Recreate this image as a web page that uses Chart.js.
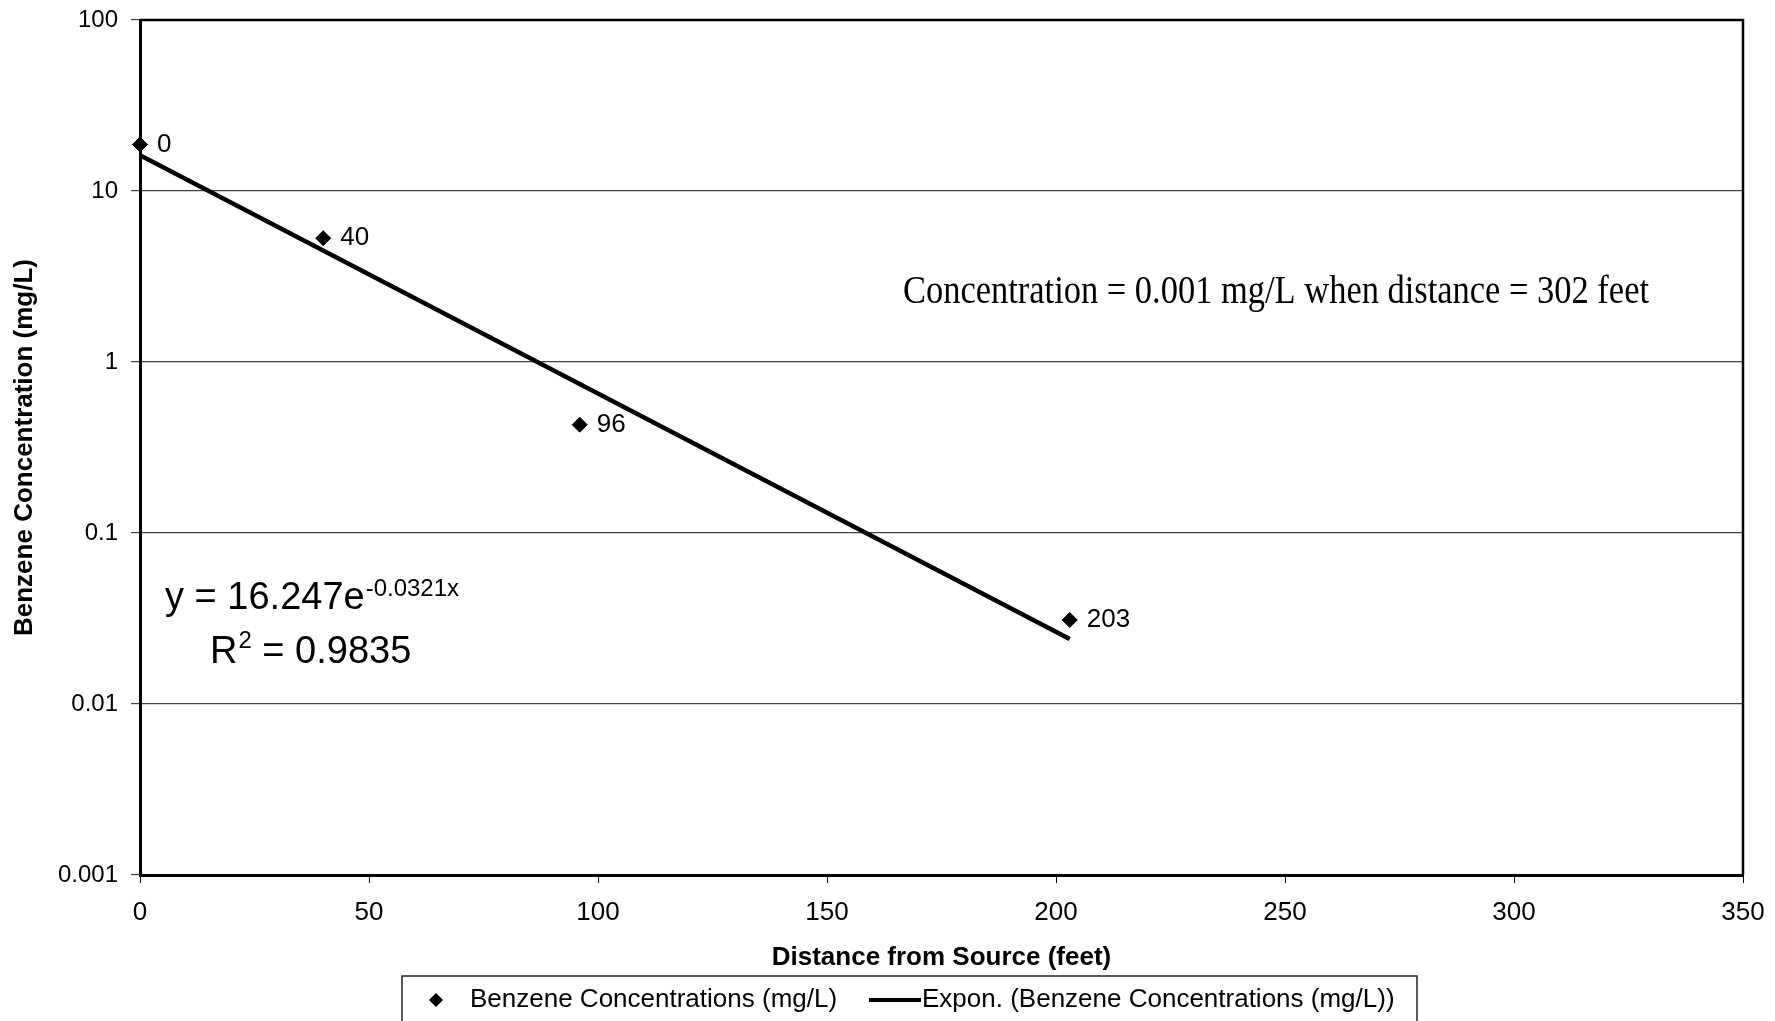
<!DOCTYPE html>
<html>
<head>
<meta charset="utf-8">
<script src="https://cdn.jsdelivr.net/npm/chart.js@4.4.1/dist/chart.umd.min.js"></script>
<style>
  html, body { margin: 0; padding: 0; background: #fff; }
  #wrap { width: 1775px; height: 1021px; }
</style>
</head>
<body>
<div id="wrap"><canvas id="chart" width="1775" height="1021"></canvas></div>
<script>
const distances = [0, 40, 96, 203];
const concentrations = [18.7, 5.3, 0.43, 0.031];
const pointLabels = ['0', '40', '96', '203'];

// Exponential trendline end points
const trendX = [0, 203];
const trendY = [16.2, 0.024];

// Axis ticks
const yTicks = [0.001, 0.01, 0.1, 1, 10, 100];
const yTickLabels = ['0.001', '0.01', '0.1', '1', '10', '100'];
const xMin = 0, xMax = 350, xStep = 50;

const seriesLabel = 'Benzene Concentrations (mg/L)';
const trendLabel = 'Expon. (Benzene Concentrations (mg/L))';
const eqMain = 'y = 16.247e';
const eqExp = '-0.0321x';
const r2Value = ' = 0.9835';
const noteText = 'Concentration = 0.001 mg/L when distance = 302 feet';

const SANS = '"Liberation Sans", Arial, sans-serif';
const SERIF = '"Liberation Serif", "Times New Roman", serif';

// Box around plot (top and right edges)
const framePlugin = {
    id: 'frame',
    afterDraw(chart) {
        const { ctx, chartArea: a } = chart;
        ctx.save();
        ctx.strokeStyle = '#000';
        ctx.lineWidth = 2.5;
        ctx.beginPath();
        ctx.moveTo(a.left, a.top);
        ctx.lineTo(a.right, a.top);
        ctx.lineTo(a.right, a.bottom);
        ctx.stroke();
        ctx.restore();
    }
};

// Point labels, equation and note
const textPlugin = {
    id: 'texts',
    afterDatasetsDraw(chart) {
        const ctx = chart.ctx;
        ctx.save();
        ctx.fillStyle = '#000';
        ctx.textBaseline = 'middle';
        ctx.textAlign = 'left';

        // labels next to each point
        ctx.font = '26px ' + SANS;
        chart.getDatasetMeta(0).data.forEach((pt, i) => {
            ctx.fillText(pointLabels[i], pt.x + 17, pt.y);
        });

        // trendline equation
        ctx.textBaseline = 'alphabetic';
        ctx.font = '38px ' + SANS;
        ctx.fillText(eqMain, 165, 609);
        const w = ctx.measureText(eqMain).width;
        ctx.font = '24px ' + SANS;
        ctx.fillText(eqExp, 165 + w + 1, 596);

        ctx.font = '38px ' + SANS;
        ctx.fillText('R', 210, 663);
        const rw = ctx.measureText('R').width;
        ctx.font = '24px ' + SANS;
        ctx.fillText('2', 210 + rw + 1, 648);
        const sw = ctx.measureText('2').width;
        ctx.font = '38px ' + SANS;
        ctx.fillText(r2Value, 210 + rw + sw + 1, 663);

        // note, condensed serif
        ctx.font = '40px ' + SERIF;
        const nw = ctx.measureText(noteText).width;
        const target = 746;
        ctx.translate(903, 303);
        ctx.scale(target / nw, 1);
        ctx.fillText(noteText, 0, 0);
        ctx.restore();
    }
};

// Legend box at the bottom
const legendPlugin = {
    id: 'legendBox',
    afterDraw(chart) {
        const ctx = chart.ctx;
        const ds = chart.data.datasets;
        const top = 976, left = 402, right = 1417, cy = 1000;
        ctx.save();
        ctx.strokeStyle = '#222';
        ctx.lineWidth = 1.5;
        ctx.strokeRect(left, top, right - left, 60);

        ctx.fillStyle = '#000';
        ctx.beginPath();
        ctx.moveTo(436, cy - 7);
        ctx.lineTo(443, cy);
        ctx.lineTo(436, cy + 7);
        ctx.lineTo(429, cy);
        ctx.closePath();
        ctx.fill();

        ctx.font = '26px ' + SANS;
        ctx.textBaseline = 'middle';
        ctx.fillText(ds[0].label, 470, cy);

        ctx.lineWidth = 4;
        ctx.strokeStyle = '#000';
        ctx.beginPath();
        ctx.moveTo(869, cy);
        ctx.lineTo(921, cy);
        ctx.stroke();
        ctx.fillText(ds[1].label, 922, cy);
        ctx.restore();
    }
};

const ctx = document.getElementById('chart').getContext('2d');

new Chart(ctx, {
    type: 'scatter',
    data: {
        datasets: [
            {
                label: seriesLabel,
                data: distances.map((d, i) => ({ x: d, y: concentrations[i] })),
                pointStyle: 'rectRot',
                pointRadius: 7.5,
                backgroundColor: '#000',
                borderColor: '#000',
                borderWidth: 1,
                showLine: false,
                clip: false,
                order: 1
            },
            {
                label: trendLabel,
                data: trendX.map((d, i) => ({ x: d, y: trendY[i] })),
                showLine: true,
                borderColor: '#000',
                borderWidth: 4.5,
                pointRadius: 0,
                fill: false,
                order: 2
            }
        ]
    },
    options: {
        responsive: false,
        animation: false,
        layout: {
            padding: { top: 20, right: 32, bottom: 46, left: 0 }
        },
        plugins: {
            legend: { display: false },
            tooltip: { enabled: false }
        },
        scales: {
            x: {
                type: 'linear',
                min: xMin,
                max: xMax,
                afterFit: scale => {
                    scale.height = 100;
                    scale.paddingLeft = 0;
                    scale.paddingRight = 0;
                },
                ticks: {
                    stepSize: xStep,
                    color: '#000',
                    padding: 14,
                    maxRotation: 0,
                    font: { family: SANS, size: 26 }
                },
                grid: {
                    drawOnChartArea: false,
                    drawTicks: true,
                    tickLength: 8,
                    color: '#000'
                },
                border: { display: true, color: '#000', width: 3 },
                title: {
                    display: true,
                    text: 'Distance from Source (feet)',
                    color: '#000',
                    padding: { top: 0, bottom: 2 },
                    font: { family: SANS, size: 26, weight: 'bold' }
                }
            },
            y: {
                type: 'logarithmic',
                min: yTicks[0],
                max: yTicks[yTicks.length - 1],
                afterFit: scale => {
                    scale.width = 140;
                    scale.paddingTop = 0;
                },
                afterBuildTicks: scale => {
                    scale.ticks = yTicks.map(v => ({ value: v }));
                },
                ticks: {
                    color: '#000',
                    padding: 13,
                    font: { family: SANS, size: 24 },
                    callback: v => yTickLabels[yTicks.indexOf(v)]
                },
                grid: {
                    color: '#444',
                    lineWidth: 1.2,
                    drawTicks: true,
                    tickLength: 9
                },
                border: { display: true, color: '#000', width: 3 },
                title: {
                    display: true,
                    text: 'Benzene Concentration (mg/L)',
                    color: '#000',
                    padding: { top: 9, bottom: 0 },
                    font: { family: SANS, size: 26, weight: 'bold' }
                }
            }
        }
    },
    plugins: [framePlugin, textPlugin, legendPlugin]
});
</script>
</body>
</html>
